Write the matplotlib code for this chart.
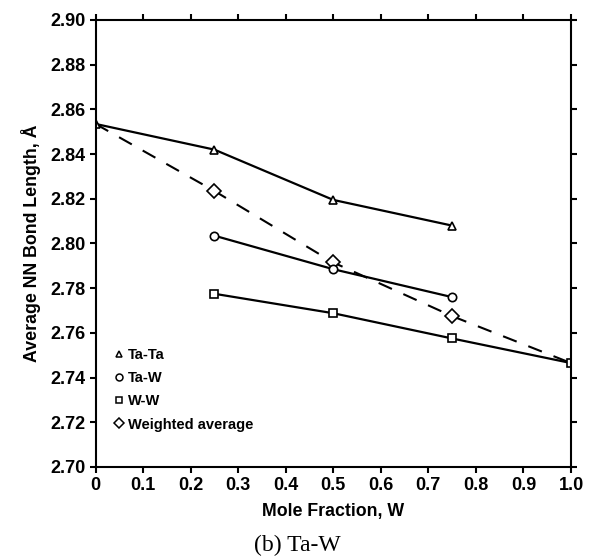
import matplotlib
matplotlib.use("Agg")
import matplotlib.pyplot as plt
from matplotlib.lines import Line2D

# data
x_tata = [0.0, 0.25, 0.5, 0.75]
y_tata = [2.8535, 2.842, 2.8195, 2.808]
x_taw = [0.25, 0.5, 0.75]
y_taw = [2.8035, 2.7885, 2.776]
x_ww = [0.25, 0.5, 0.75, 1.0]
y_ww = [2.7775, 2.7688, 2.7575, 2.7465]
x_wavg = [0.0, 0.25, 0.5, 0.75, 1.0]
y_wavg = [2.8535, 2.8235, 2.7915, 2.7675, 2.7465]

xticks = [0, 0.1, 0.2, 0.3, 0.4, 0.5, 0.6, 0.7, 0.8, 0.9, 1.0]
xticklabels = ["0", "0.1", "0.2", "0.3", "0.4", "0.5", "0.6", "0.7", "0.8", "0.9", "1.0"]
yticks = [2.70, 2.72, 2.74, 2.76, 2.78, 2.80, 2.82, 2.84, 2.86, 2.88, 2.90]
legend_labels = ["Ta-Ta", "Ta-W", "W-W", "Weighted average"]
legend_markers = ['^', 'o', 's', 'D']

plt.rcParams['font.family'] = ['Liberation Sans', 'DejaVu Sans']

fig = plt.figure(figsize=(5.91, 5.57), dpi=100)
ax = fig.add_axes([0.1616, 0.1616, 0.8046, 0.8025])

lw = 1.6
ms = 6
mk = dict(mfc='white', mec='k', mew=1.2)
# weighted average: dashed line through all points, diamonds at the mixed compositions
ax.plot(x_wavg, y_wavg, color='k', lw=1.5, dashes=(7, 6))
ax.plot(x_wavg[1:-1], y_wavg[1:-1], lw=0, marker='D', ms=7, **mk)
ax.plot(x_tata, y_tata, color='k', lw=lw, marker='^', ms=ms, **mk)
ax.plot(x_taw, y_taw, color='k', lw=lw, marker='o', ms=ms, **mk)
ax.plot(x_ww, y_ww, color='k', lw=lw, marker='s', ms=ms, **mk)

ax.set_xlim(0, 1.0)
ax.set_ylim(2.70, 2.90)
ax.set_xticks(xticks)
ax.set_xticklabels(xticklabels)
ax.set_yticks(yticks)
ax.set_yticklabels(["%.2f" % v for v in yticks])

for s in ax.spines.values():
    s.set_linewidth(1.5)
ax.tick_params(axis='both', direction='out', length=4, width=1.5, labelsize=13, pad=3)
ax.tick_params(top=True, right=True, labeltop=False, labelright=False)
for lab in ax.get_xticklabels() + ax.get_yticklabels():
    lab.set_fontweight('bold')

ax.set_xlabel("Mole Fraction, W", fontsize=12.8, fontweight='bold', labelpad=7)
ax.set_ylabel("Average NN Bond Length, Å", fontsize=12.8, fontweight='bold', labelpad=7)

handles = [Line2D([], [], ls='none', marker=m, ms=5, mfc='white', mec='k', mew=1.1)
           for m in legend_markers]
leg = ax.legend(handles, legend_labels, loc='lower left', bbox_to_anchor=(0.014, 0.05),
                frameon=False, handlelength=0.5, handletextpad=0.35, labelspacing=0.62,
                prop={'size': 10.5, 'weight': 'bold'})

fig.text(0.5025, 0.02, "(b) Ta-W", family='Liberation Serif', fontsize=17,
         ha='center', va='center')

fig.savefig("out.png", dpi=100)
